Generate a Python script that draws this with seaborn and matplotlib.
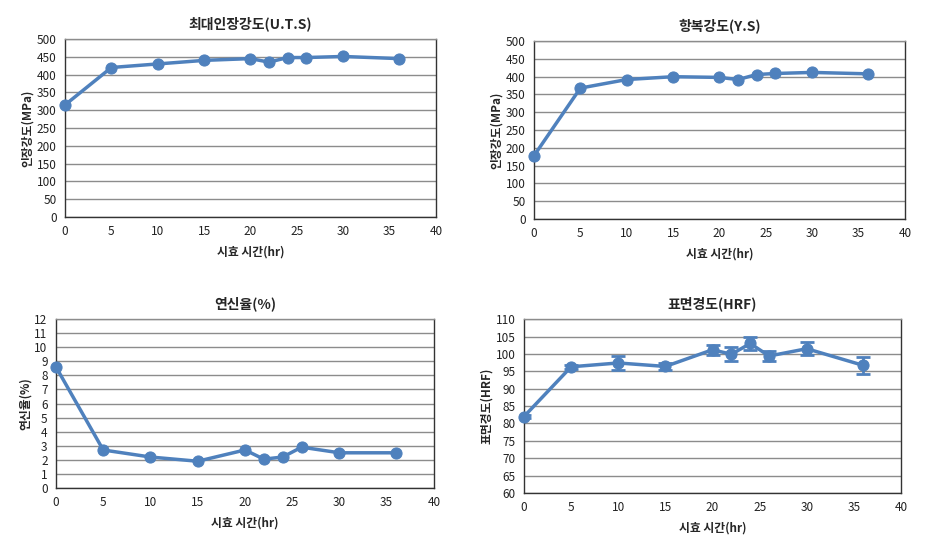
import numpy as np
import pandas as pd
import seaborn as sns
from matplotlib import pyplot as plt

# aging time (hr)
hours = [0, 5, 10, 15, 20, 22, 24, 26, 30, 36]

uts = [315, 420, 430, 440, 445, 435, 448, 448, 451, 445]
ys = [178, 368, 392, 400, 398, 392, 406, 409, 412, 408]
elong = [8.6, 2.7, 2.2, 1.9, 2.7, 2.05, 2.2, 2.9, 2.5, 2.5]
hrf = [82.0, 96.3, 97.4, 96.4, 101.2, 99.9, 103.0, 99.4, 101.5, 96.7]
hrf_err = [0.5, 0.5, 2.0, 1.0, 1.5, 2.0, 2.0, 1.5, 1.8, 2.5]

titles = ['최대인장강도(U.T.S)', '항복강도(Y.S)', '연신율(%)', '표면경도(HRF)']
ylabels = ['인장강도(MPa)', '인장강도(MPa)', '연신율(%)', '표면경도(HRF)']
xlabel = '시효 시간(hr)'

sns.set_style('white')
plt.rcParams['font.family'] = ['Noto Sans CJK KR', 'DejaVu Sans']

color = '#4F81BD'

fig = plt.figure(figsize=(9.25, 5.45), dpi=100)
rects = [
    [0.0703, 0.6018, 0.401, 0.3266],
    [0.5773, 0.5980, 0.401, 0.3266],
    [0.0605, 0.1046, 0.4086, 0.3100],
    [0.5665, 0.0954, 0.4076, 0.3190],
]
series = [uts, ys, elong, hrf]
ylims = [(0, 500, 50), (0, 500, 50), (0, 12, 1), (60, 110, 5)]

for i in range(4):
    ax = fig.add_axes(rects[i])
    df = pd.DataFrame({'hr': hours, 'val': series[i]})
    if i == 3:
        ax.errorbar(hours, hrf, yerr=hrf_err, fmt='none', ecolor=color,
                    elinewidth=2, capsize=5, capthick=2, zorder=3)
    sns.lineplot(data=df, x='hr', y='val', ax=ax, color=color, linewidth=2.5,
                 marker='o', markersize=8, markeredgecolor=color, zorder=4,
                 clip_on=False)
    lo, hi, step = ylims[i]
    ax.set_ylim(lo, hi)
    ax.set_yticks(np.arange(lo, hi + step / 2, step))
    ax.set_xlim(0, 40)
    ax.set_xticks(range(0, 41, 5))
    ax.yaxis.grid(True, color='#8c8c8c', linewidth=1)
    ax.set_axisbelow(True)
    for s in ax.spines.values():
        s.set_color('#333333')
        s.set_linewidth(1)
    ax.spines['top'].set_color('#8c8c8c')
    ax.tick_params(length=0, labelsize=8.5, pad=6, labelcolor='#222222')
    ax.set_title(titles[i], fontsize=10, fontweight='bold', pad=8)
    ax.set_xlabel(xlabel, fontsize=8.5, fontweight='bold', labelpad=5)
    ax.set_ylabel(ylabels[i], fontsize=8.5, fontweight='bold', labelpad=2)

plt.savefig('out.png', dpi=100)
